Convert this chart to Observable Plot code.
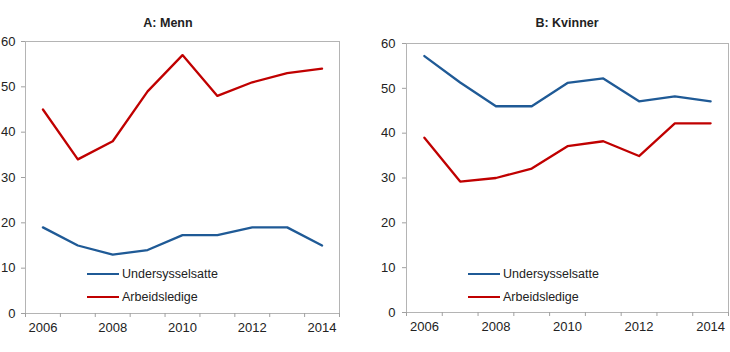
<!DOCTYPE html>
<html>
<head>
<meta charset="utf-8">
<script src="https://cdn.jsdelivr.net/npm/d3@7"></script>
<script src="https://cdn.jsdelivr.net/npm/@observablehq/plot@0.6"></script>
<style>
  body { margin: 0; background: #fff; font-family: "Liberation Sans", Arial, sans-serif; }
  #wrap { position: relative; width: 730px; height: 352px; overflow: hidden; }
  .panel { position: absolute; top: 0; }
  .title { position: absolute; top: 16px; width: 200px; margin-left: -100px; font-weight: bold; font-size: 12.5px; line-height: 14px; color: #222; text-align: center; }
  .leg { position: absolute; font-size: 12.5px; color: #222; display: flex; align-items: center; }
  .sw { display: inline-block; width: 32px; height: 2.4px; margin-right: 3px; }
</style>
</head>
<body>
<div id="wrap"></div>
<script>
const years = [2006, 2007, 2008, 2009, 2010, 2011, 2012, 2013, 2014];
const mennUnder = [19, 15, 13, 14, 17.3, 17.3, 19, 19, 15];
const mennArb = [45, 34, 38, 49, 57, 48, 51, 53, 54];
const kvinnerUnder = [57.2, 51.3, 46, 46, 51.2, 52.2, 47.1, 48.2, 47.1];
const kvinnerArb = [39, 29.2, 30, 32.1, 37.1, 38.2, 34.9, 42.2, 42.2];
const seriesNames = ["Undersysselsatte", "Arbeidsledige"];
const seriesColors = ["#1f5a96", "#c00000"];
const yTicks = [0, 10, 20, 30, 40, 50, 60];
const xLabels = [2006, 2008, 2010, 2012, 2014];
const titles = ["A: Menn", "B: Kvinner"];

const xEdges = d3.range(years.length + 1).map(i => years[0] - 0.5 + i);

function rows(under, arb) {
  const out = [];
  years.forEach((y, i) => out.push({year: y, value: under[i], series: seriesNames[0]}));
  years.forEach((y, i) => out.push({year: y, value: arb[i], series: seriesNames[1]}));
  return out;
}

function panel(data, m) {
  return Plot.plot({
    width: 365,
    height: 352,
    marginLeft: m.left,
    marginRight: m.right,
    marginTop: m.top,
    marginBottom: m.bottom,
    style: {fontFamily: "Liberation Sans, Arial, sans-serif", fontSize: "13px", color: "#222", background: "transparent"},
    x: {domain: [xEdges[0], xEdges[xEdges.length - 1]]},
    y: {domain: [0, 60]},
    color: {domain: seriesNames, range: seriesColors},
    marks: [
      Plot.frame({stroke: "#b4b4b4"}),
      Plot.axisY({ticks: yTicks, tickSize: 4, tickPadding: m.pad, stroke: "#a0a0a0", fill: "#222", label: null}),
      Plot.axisX({ticks: xEdges, tickSize: 4, tickFormat: () => "", stroke: "#a0a0a0", label: null}),
      Plot.axisX({ticks: xLabels, tickSize: 0, tickPadding: 9, tickFormat: d => String(d), fill: "#222", label: null}),
      Plot.line(data, {x: "year", y: "value", z: "series", stroke: "series", strokeWidth: 2.3})
    ]
  });
}

const wrap = document.getElementById("wrap");
const configs = [
  {data: rows(mennUnder, mennArb), left: 0, m: {left: 25, right: 26, top: 41, bottom: 39, pad: 6}, tc: 168, legX: 87},
  {data: rows(kvinnerUnder, kvinnerArb), left: 365, m: {left: 41, right: 2, top: 43, bottom: 40, pad: 7}, tc: 567, legX: 468}
];
configs.forEach((c, k) => {
  const div = document.createElement("div");
  div.className = "panel";
  div.style.left = c.left + "px";
  div.appendChild(panel(c.data, c.m));
  wrap.appendChild(div);
  const t = document.createElement("div");
  t.className = "title";
  t.style.left = c.tc + "px";
  t.textContent = titles[k];
  wrap.appendChild(t);
  seriesNames.forEach((s, i) => {
    const l = document.createElement("div");
    l.className = "leg";
    l.style.left = c.legX + "px";
    l.style.top = (266 + i * 23) + "px";
    l.style.height = "16px";
    const sw = document.createElement("span");
    sw.className = "sw";
    sw.style.background = seriesColors[i];
    l.appendChild(sw);
    l.appendChild(document.createTextNode(s));
    wrap.appendChild(l);
  });
});
</script>
</body>
</html>
